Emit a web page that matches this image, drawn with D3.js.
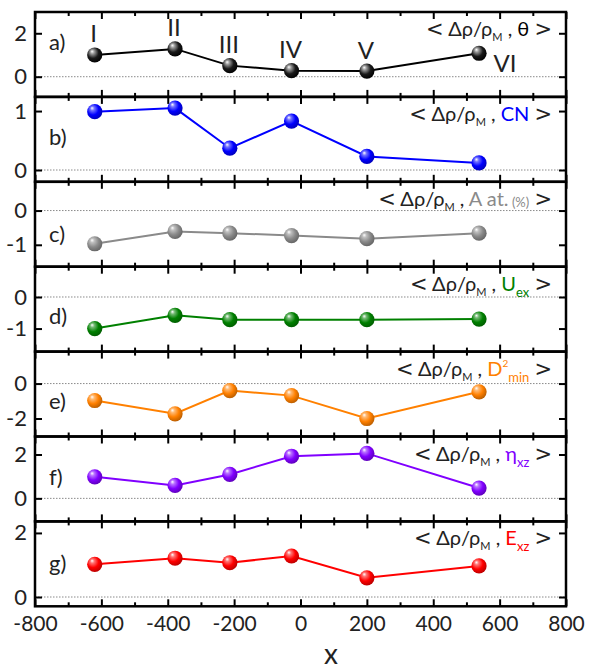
<!DOCTYPE html>
<html>
<head>
<meta charset="utf-8">
<script src="https://cdn.jsdelivr.net/npm/d3@7/dist/d3.min.js"></script>
<style>
  html, body { margin: 0; padding: 0; background: #fff; }
  svg { display: block; }
  text { font-family: Lato, "Open Sans", sans-serif; fill: #222; }
</style>
</head>
<body>
<svg id="chart" width="595" height="669"></svg>
<script>
// Position along x of the six sampled regions
const xValues = [-620, -378, -213, -27, 200, 538];
const romanLabels = ["I", "II", "III", "IV", "V", "VI"];
const panelLetters = ["a)", "b)", "c)", "d)", "e)", "f)", "g)"];

// Correlation values per quantity
const seriesTheta = [1.00, 1.28, 0.51, 0.28, 0.26, 1.08];
const seriesCN    = [0.99, 1.05, 0.37, 0.83, 0.23, 0.12];
const seriesAat   = [-0.97, -0.61, -0.66, -0.73, -0.82, -0.66];
const seriesUex   = [-1.00, -0.58, -0.72, -0.72, -0.72, -0.70];
const seriesD2min = [-0.97, -1.73, -0.40, -0.69, -2.00, -0.47];
const seriesEta   = [0.98, 0.59, 1.09, 1.92, 2.05, 0.47];
const seriesExz   = [1.02, 1.21, 1.07, 1.28, 0.60, 0.97];

// Axis extents and ticks
const yDomains = [[-0.93, 2.98], [-0.2, 1.24], [-1.64, 0.84], [-1.73, 0.96], [-3.03, 1.83], [-1.05, 2.82], [-0.29, 2.36]];
const yTickValues = [[0, 2], [0, 1], [-1, 0], [-1, 0], [-2, 0], [0, 2], [0, 2]];
const xMajorTicks = [-800, -600, -400, -200, 0, 200, 400, 600, 800];
const xMinorTicks = [-700, -500, -300, -100, 100, 300, 500, 700];
const xAxisTitle = "x";

// Quantity names shown in each panel's bracket
const quantityNames = [
  [{t: "θ"}],
  [{t: "CN"}],
  [{t: "A at."}, {t: " (%)", small: true}],
  [{t: "U"}, {t: "ex", sub: true}],
  [{t: "D"}, {t: "2", sup: true}, {t: "min", sub: true}],
  [{t: "η"}, {t: "xz", sub: true}],
  [{t: "E"}, {t: "xz", sub: true}]
];

const allSeries = [seriesTheta, seriesCN, seriesAat, seriesUex, seriesD2min, seriesEta, seriesExz];
const colors = ["#000000", "#0000ff", "#8a8a8a", "#008000", "#ff8000", "#8000ff", "#ff0000"];
const labelDy = [29, 40, 52, 49, 49, 40, 41];

const svg = d3.select("#chart");
const left = 35, right = 566, top0 = 12, panelH = 84.9;

const x = d3.scaleLinear().domain([-800, 800]).range([left, right]);

// Ball gradients
const defs = svg.append("defs");
colors.forEach((c, i) => {
  const base = d3.color(c);
  const g = defs.append("radialGradient")
    .attr("id", "ball" + i)
    .attr("cx", "42%").attr("cy", "40%").attr("r", "62%")
    .attr("fx", "32%").attr("fy", "26%");
  const light = i === 0 ? "#9a9a9a" : d3.interpolateRgb(c, "#fff")(0.45);
  const dark = i === 0 ? "#000" : base.darker(0.9).toString();
  g.append("stop").attr("offset", "0%").attr("stop-color", "#fff");
  g.append("stop").attr("offset", "22%").attr("stop-color", light);
  g.append("stop").attr("offset", "60%").attr("stop-color", i === 0 ? "#1a1a1a" : c);
  g.append("stop").attr("offset", "100%").attr("stop-color", dark);
});

allSeries.forEach((vals, i) => {
  const pTop = top0 + i * panelH;
  const pBot = pTop + panelH;
  const y = d3.scaleLinear().domain(yDomains[i]).range([pBot, pTop]);
  const g = svg.append("g");

  // zero reference line
  g.append("line")
    .attr("x1", left).attr("x2", right)
    .attr("y1", y(0)).attr("y2", y(0))
    .attr("stroke", "#8a8a8a").attr("stroke-width", 1)
    .attr("stroke-dasharray", "1.5,1.5");

  // x ticks (inward) on bottom and top of each panel
  const bottomMajor = d3.axisBottom(x).tickValues(xMajorTicks).tickSizeInner(-7).tickSizeOuter(0).tickPadding(10);
  const bottomMinor = d3.axisBottom(x).tickValues(xMinorTicks).tickSizeInner(-4).tickSizeOuter(0).tickFormat("");
  const topMajor = d3.axisTop(x).tickValues(xMajorTicks).tickSizeInner(-7).tickSizeOuter(0).tickFormat("");
  const topMinor = d3.axisTop(x).tickValues(xMinorTicks).tickSizeInner(-4).tickSizeOuter(0).tickFormat("");
  [[bottomMajor, pBot], [bottomMinor, pBot], [topMajor, pTop], [topMinor, pTop]].forEach(([ax, yy]) => {
    const a = g.append("g").attr("transform", `translate(0,${yy})`).call(ax);
    a.select(".domain").remove();
    a.selectAll("line").attr("stroke", "#000").attr("stroke-width", 2);
    a.selectAll("text").attr("font-size", 21).attr("fill", "#222")
      .attr("font-family", "Lato, 'Open Sans', sans-serif")
      .text(d => (i === 6 && ax === bottomMajor) ? (d < 0 ? "-" + Math.abs(d) : d) : "");
  });

  // y ticks
  const yl = g.append("g").attr("transform", `translate(${left},0)`)
    .call(d3.axisLeft(y).tickValues(yTickValues[i]).tickSizeInner(-7).tickSizeOuter(0).tickPadding(8)
      .tickFormat(d => d < 0 ? "-" + Math.abs(d) : d));
  yl.select(".domain").remove();
  yl.selectAll("line").attr("stroke", "#000").attr("stroke-width", 2);
  yl.selectAll("text").attr("font-size", 22).attr("fill", "#222")
    .attr("font-family", "Lato, 'Open Sans', sans-serif");
  const yr = g.append("g").attr("transform", `translate(${right},0)`)
    .call(d3.axisRight(y).tickValues(yTickValues[i]).tickSizeInner(-7).tickSizeOuter(0).tickFormat(""));
  yr.select(".domain").remove();
  yr.selectAll("line").attr("stroke", "#000").attr("stroke-width", 2);

  // panel frame
  g.append("rect")
    .attr("x", left).attr("y", pTop).attr("width", right - left).attr("height", panelH)
    .attr("fill", "none").attr("stroke", "#000").attr("stroke-width", 2.5);

  // connecting line
  const line = d3.line().x((d, k) => x(xValues[k])).y(d => y(d));
  g.append("path").datum(vals).attr("d", line)
    .attr("fill", "none").attr("stroke", colors[i]).attr("stroke-width", 2);

  // balls
  g.selectAll("circle.ball").data(vals).join("circle")
    .attr("class", "ball")
    .attr("cx", (d, k) => x(xValues[k])).attr("cy", d => y(d))
    .attr("r", 7.6).attr("fill", `url(#ball${i})`);

  // panel letter
  g.append("text").attr("x", 49).attr("y", pTop + labelDy[i])
    .attr("dominant-baseline", "central")
    .attr("font-size", 22).attr("fill", "#222").text(panelLetters[i]);

  // bracket annotation
  const fsMain = 20;
  const t = g.append("text").attr("x", 552).attr("y", pTop + 24)
    .attr("text-anchor", "end").attr("font-size", fsMain).attr("fill", "#333")
    .attr("font-family", "'Open Sans', Lato, sans-serif");
  t.append("tspan").attr("font-family", "'DejaVu Sans', sans-serif").attr("font-size", 21).text("<");
  t.append("tspan").text(" Δρ/ρ");
  t.append("tspan").attr("font-size", 11).attr("dy", 5).text("M");
  t.append("tspan").attr("dy", -5).text(" , ");
  let shift = 0;
  quantityNames[i].forEach(part => {
    const s = t.append("tspan").attr("fill", colors[i]).text(part.t);
    let dy = 0, fs = fsMain;
    if (part.sub) { dy = 6; fs = 13; }
    if (part.sup) { dy = -9; fs = 10; }
    if (part.small) { dy = 1; fs = 13; }
    s.attr("font-size", fs).attr("dy", dy - shift);
    shift = dy;
  });
  t.append("tspan").attr("dy", -shift).text(" ");
  t.append("tspan").attr("font-family", "'DejaVu Sans', sans-serif").attr("font-size", 21).text(">");

  // region numerals in the top panel
  if (i === 0) {
    g.selectAll("text.roman").data(vals).join("text")
      .attr("class", "roman")
      .attr("x", (d, k) => x(xValues[k]) + (k === 5 ? 26 : -1))
      .attr("y", (d, k) => y(d) + (k === 5 ? 9 : -22))
      .attr("text-anchor", "middle").attr("dominant-baseline", "central")
      .attr("font-size", 24).attr("fill", "#222")
      .text((d, k) => romanLabels[k]);
  }
});

// x axis title
svg.append("text").attr("x", 331).attr("y", 664)
  .attr("text-anchor", "middle").attr("font-size", 28).attr("fill", "#222")
  .text(xAxisTitle);
</script>
</body>
</html>
